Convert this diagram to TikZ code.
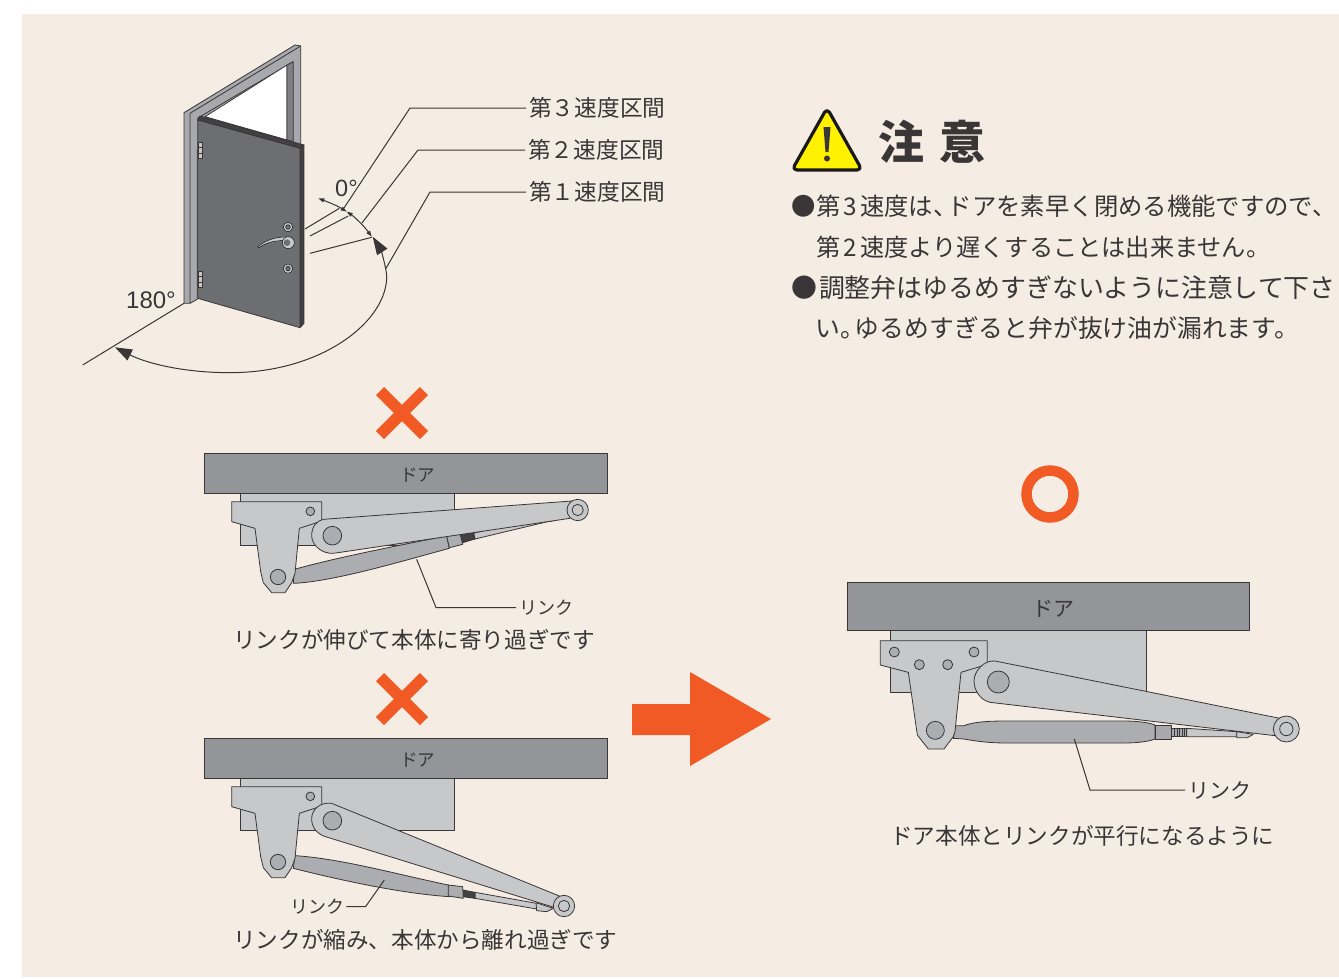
\documentclass[tikz,border=0pt]{standalone}
\usepackage{fontspec}
\usetikzlibrary{arrows.meta}
\setmainfont{Noto Sans CJK JP}
\newfontfamily\latinf{Liberation Sans}
\newfontfamily\paltf[RawFeature=+palt]{Noto Sans CJK JP}
\definecolor{bgc}{HTML}{F5EDE4}
\definecolor{ink}{HTML}{3A3536}
\definecolor{doorbar}{HTML}{939598}
\definecolor{metal}{HTML}{C7C8CA}
\definecolor{linkc}{HTML}{ABADB0}
\definecolor{doorc}{HTML}{6D6E71}
\definecolor{framec}{HTML}{A7A9AC}
\definecolor{edgec}{HTML}{414042}
\definecolor{orangec}{HTML}{F15A24}
\definecolor{warn}{HTML}{FFF200}
\newcommand{\fs}[1]{\fontsize{#1}{#1}\selectfont}
\tikzset{
  x=1pt,y=-1pt,
  part/.style={draw=ink,line width=.8pt,line join=round},
  metalpart/.style={part,fill=metal},
  linkpart/.style={part,fill=linkc},
  leader/.style={draw=ink,line width=1pt},
  txt/.style={inner sep=0pt,text=ink,anchor=west},
  zoomed/.style={shift={(#1)},scale=1/3},
  xmark/.style={draw=orangec,line width=11.5pt},
}
\newcommand{\doorbody}[1]{%
  \path[part,fill=doorbar] (13,10) rectangle (1223,131);
  \node[inner sep=0pt,text=ink] (#1) at (653,75) {\fs{17.5}ドア};
  \path[metalpart] (120,131) rectangle (764,285);
}
\newcommand{\bracketA}{%
  \path[metalpart] (95,155)--(365,155)--(365,213)--(298,235)--(285,370)--(275,398)--(255,428)--(215,428)--(190,398)--(182,365)--(165,235)--(95,215)--cycle;
  \path[part,fill=linkc] (331,184) circle (13);
  \path[part,fill=linkc] (234,381) circle (23);
}
\begin{document}
\begin{tikzpicture}
\useasboundingbox (0,0) rectangle (1339,978);
\fill[white] (0,0) rectangle (1339,978);
\fill[bgc] (22,14) rectangle (1339,977);

% door
\begin{scope}[zoomed={70,30}]
  \path[part,fill=framec] (342,248)--(675,45)--(692,48)--(692,360)--(382,360)--(382,808)--(360,820)--(342,820)--cycle;
  \draw[part] (360,250)--(692,48) (360,250)--(360,820) (382,265)--(670,95);
  \path[part,fill=white] (405,260)--(651,105)--(651,330)--cycle;
  \path[part,fill=framec!75!black] (651,105)--(670,95)--(670,335)--(651,330)--cycle;
  \path[part,fill=edgec] (383,270)--(390,258)--(702,345)--(690,355)--cycle;
  \path[part,fill=edgec] (690,355)--(702,345)--(702,880)--(690,893)--cycle;
  \path[part,fill=doorc] (383,270)--(690,355)--(690,893)--(383,805)--cycle;
  \path[draw=ink,line width=.4pt,fill=metal] (385,338) rectangle (397,385) (385,725) rectangle (397,772);
  \draw[ink,line width=.4pt] (385,353)--(397,353) (385,369)--(397,369) (385,740)--(397,740) (385,756)--(397,756);
  \path[draw=black,line width=.4pt,fill=metal] (654,591) circle (14) (654,716) circle (14);
  \path[draw=black,line width=.4pt,fill=doorc] (654,591) circle (7) (654,716) circle (7);
  \path[draw=black,line width=.4pt,fill=metal] (563,651) .. controls (590,628) and (620,620) .. (655,621) -- (655,632) .. controls (620,630) and (590,636) .. (567,653) -- cycle;
  \path[draw=black,line width=.4pt,fill=metal] (655,638) circle (18);
  \path[fill=doorc] (651,638) circle (10);
  \coordinate (floorA) at (342,820);
  \coordinate (floorB) at (38,1005);
  \coordinate (radA) at (705,597);
  \coordinate (radA2) at (808,535);
  \coordinate (radB) at (720,618);
  \coordinate (radB2) at (835,558);
  \coordinate (radC) at (720,670);
  \coordinate (radC2) at (905,622);
  \coordinate (arcS) at (745,505);
  \coordinate (arcM) at (950,735);
  \coordinate (legA) at (820,537);
  \coordinate (legB) at (875,580);
  \coordinate (legC) at (948,715);
  \draw[leader] (floorA)--(floorB) (radA)--(radA2) (radB)--(radB2) (radC)--(radC2);
  \draw[leader,-{Triangle[length=17pt,width=12pt]}] (arcM) .. controls (955,870) and (760,1028) .. (480,1028) .. controls (340,1028) and (230,1000) .. (135,952);
  \draw[leader,-{Triangle[length=18pt,width=12pt]}] (arcM) .. controls (945,695) and (930,655) .. (908,620);
  \draw[leader,{Triangle[length=6pt,width=4pt]}-{Triangle[length=6pt,width=4pt]}] (arcS) .. controls (790,522) and (810,532) .. (830,545);
  \draw[leader,{Triangle[length=6pt,width=4pt]}-{Triangle[length=6pt,width=4pt]}] (830,545) .. controls (850,558) and (880,585) .. (905,620);
  \node[txt,font=\latinf\fs{23.5}] (zero) at (795,475) {0°};
  \node[txt,font=\latinf\fs{24}] (oneeighty) at (168,812) {180°};
\end{scope}
\node[txt] (l3) at (529,108) {\fs{22.7}第３速度区間};
\node[txt] (l2) at (528,150) {\fs{22.7}第２速度区間};
\node[txt] (l1) at (529,192) {\fs{22.7}第１速度区間};
\draw[leader] (legA)--(410,0 |- l3.west)--([xshift=-3pt]l3.west);
\draw[leader] (legB)--(418,0 |- l2.west)--([xshift=-3pt]l2.west);
\draw[leader] (legC)--(430,0 |- l1.west)--([xshift=-3pt]l1.west);

% warning
\path[draw=black!90,line width=3.2pt,fill=warn,line join=round,rounded corners=5pt] (827,108)--(862,170)--(792,170)--cycle;
\fill[ink] (823.5,127)--(830.5,127)--(828.5,152)--(825.5,152)--cycle;
\fill[ink] (827,158.5) circle (3);
\node[txt,font=\bfseries] (title) at (878,142) {\fs{46}注\hspace{.33em}意};
\node[txt] (t1) at (791.5,206) {\fs{24.35}●第\kern.13em 3\kern.13em 速度は{\paltf 、}\kern.1em ドアを素早く閉める機能ですので{\paltf 、}};
\node[txt] (t2) at (816,247) {\fs{24.2}第\kern.13em 2\kern.13em 速度より遅くすることは出来ません。};
\node[txt] (t3) at (791.6,288) {\fs{25.9}●\kern.05em 調整弁はゆるめすぎないように注意して下さ};
\node[txt] (t4) at (815,328) {\fs{24.8}い{\paltf 。}\kern.1em ゆるめすぎると弁が抜け油が漏れます。};

% X marks, O, arrow
\draw[xmark] (380,391)--(424,435) (424,391)--(380,435);
\draw[xmark] (380,677)--(424,721) (424,677)--(380,721);
\draw[orangec,line width=10.5pt] (1050,494) circle (23.5);
\fill[orangec] (632,704)--(690,704)--(690,672)--(771,719)--(690,766)--(690,735)--(632,735)--cycle;

% diagram 1
\begin{scope}[zoomed={200,450}]
  \doorbody{doorA}
  \path[linkpart] (283,358) .. controls (400,325) and (600,285) .. (740,258) -- (748,295) .. controls (600,335) and (400,395) .. (280,400) -- cycle;
  \path[metalpart] (820,250)--(1050,193)--(1055,212)--(825,267)--cycle;
  \path[metalpart] (1045,192)--(1068,186)--(1100,197)--(1060,212)--(1050,215)--cycle;
  \path[part,fill=edgec] (783,255)--(820,245)--(825,267)--(788,278)--cycle;
  \path[linkpart] (740,258)--(780,250)--(788,283)--(748,293)--cycle;
  \bracketA
  \path[metalpart] (370,208) -- (1115,153) -- (1110,205) -- (400,310) .. controls (365,312) and (335,285) .. (335,257) .. controls (335,230) and (350,212) .. (370,208) -- cycle;
  \path[part,fill=linkc] (397,257) circle (28);
  \path[part,fill=metal] (1133,180) circle (32);
  \path[part,fill=metal] (1133,180) circle (17);
  \coordinate (lnkA) at (650,328);
  \coordinate (lnkAb) at (708,465);
\end{scope}
\node[txt] (labA) at (519,607.5) {\fs{18}リンク};
\draw[leader] (lnkA)--(lnkAb |- labA.west)--([xshift=-3pt]labA.west);
\node[txt] (capA) at (233,640) {\fs{22.6}リンクが伸びて本体に寄り過ぎです};

% diagram 2
\begin{scope}[zoomed={200,735}]
  \doorbody{doorB}
  \path[linkpart] (285,362) .. controls (420,370) and (600,420) .. (745,450) -- (748,485) .. controls (600,475) and (420,435) .. (280,400) -- cycle;
  \path[metalpart] (825,472)--(1010,505)--(1010,522)--(825,490)--cycle;
  \path[metalpart] (1008,503)--(1060,520)--(1040,530)--(1010,527)--cycle;
  \path[part,fill=edgec] (788,465)--(825,472)--(825,490)--(788,485)--cycle;
  \path[linkpart] (745,450)--(788,455)--(790,490)--(745,483)--cycle;
  \bracketA
  \path[metalpart] (395,205) -- (1078,483) -- (1065,518) -- (370,303) .. controls (345,290) and (335,275) .. (335,250) .. controls (335,225) and (360,200) .. (395,205) -- cycle;
  \path[part,fill=linkc] (397,257) circle (28);
  \path[part,fill=metal] (1092,513) circle (32);
  \path[part,fill=metal] (1092,513) circle (17);
  \coordinate (lnkB) at (553,435);
  \coordinate (lnkBb) at (497,513);
\end{scope}
\node[txt] (labB) at (290,906.5) {\fs{18}リンク};
\draw[leader] (lnkB)--(lnkBb |- labB.east)--([xshift=2pt]labB.east);
\node[txt] (capB) at (233,940) {\fs{22.6}リンクが縮み、本体から離れ過ぎです};

% diagram 3
\begin{scope}[zoomed={840,575}]
  \path[part,fill=doorbar] (22,22) rectangle (1228,167);
  \node[inner sep=0pt,text=ink] (doorC) at (640,102) {\fs{21}ドア};
  \path[metalpart] (150,167) rectangle (918,352);
  \path[linkpart] (345,452) -- (372,452) .. controls (400,441) and (440,438) .. (500,438) -- (850,438) .. controls (900,438) and (930,444) .. (945,450) -- (945,492) .. controls (930,498) and (900,504) .. (850,504) -- (500,504) .. controls (440,504) and (400,497) .. (372,492) -- (340,490) -- cycle;
  \path[metalpart] (1040,460)--(1190,470)--(1190,485)--(1040,485)--cycle;
  \path[metalpart] (1190,470)--(1240,478)--(1222,488)--(1190,488)--cycle;
  \path[part,fill=framec] (995,460) rectangle (1040,485);
  \draw[ink,line width=.5pt] (1003,460)--(1003,485) (1011,460)--(1011,485) (1019,460)--(1019,485) (1027,460)--(1027,485) (1034,460)--(1034,485);
  \path[part,fill=framec] (945,450) rectangle (995,493);
  \path[metalpart] (121,197)--(442,197)--(442,268)--(363,292)--(345,470)--(340,485)--(312,522)--(265,522)--(232,480)--(205,292)--(121,270)--cycle;
  \path[part,fill=linkc] (163,231) circle (15) (238,269) circle (15) (323,269) circle (15) (402,231) circle (15);
  \path[part,fill=linkc] (286,466) circle (27);
  \path[metalpart] (465,258) -- (1320,430) -- (1305,482) -- (450,382) .. controls (420,375) and (402,345) .. (402,318) .. controls (402,290) and (430,255) .. (465,258) -- cycle;
  \path[part,fill=linkc] (475,321) circle (33);
  \path[part,fill=metal] (1339,462) circle (39);
  \path[part,fill=metal] (1339,462) circle (20);
  \coordinate (lnkC) at (703,492);
  \coordinate (lnkCb) at (750,635);
\end{scope}
\node[txt] (labC) at (1188,790) {\fs{21}リンク};
\draw[leader] (lnkC)--(lnkCb |- labC.west)--([xshift=-3pt]labC.west);
\node[txt] (capC) at (890,836) {\fs{22.6}ドア本体とリンクが平行になるように};
\end{tikzpicture}
\end{document}
